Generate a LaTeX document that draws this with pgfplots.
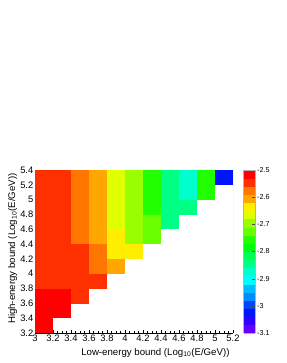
\documentclass[border=0pt]{standalone}
\usepackage{pgfplots}
\pgfplotsset{compat=1.18}
\usepackage{fontspec}
\setmainfont{Liberation Sans}
\pgfdeclareplotmark{cell}{\pgfpathrectangle{\pgfpoint{-9.15bp}{-7.56bp}}{\pgfpoint{18.3bp}{15.12bp}}\pgfusepathqfill}
\pgfplotsset{
  colormap={rootpal}{
    rgb255(0)=(99,0,255) rgb255(1)=(51,0,255) rgb255(2)=(0,20,255) rgb255(3)=(0,68,255)
    rgb255(4)=(0,139,255) rgb255(5)=(0,187,255) rgb255(6)=(0,255,252) rgb255(7)=(0,255,204)
    rgb255(8)=(0,255,133) rgb255(9)=(0,255,85) rgb255(10)=(0,255,14) rgb255(11)=(34,255,0)
    rgb255(12)=(105,255,0) rgb255(13)=(153,255,0) rgb255(14)=(224,255,0) rgb255(15)=(255,238,0)
    rgb255(16)=(255,167,0) rgb255(17)=(255,119,0) rgb255(18)=(255,48,0) rgb255(19)=(255,0,0)
    rgb255(20)=(255,0,0)
  }
}
\begin{document}
\begin{tikzpicture}
\useasboundingbox (-35bp,-30bp) rectangle (252bp,333bp);
\begin{axis}[
  at={(0,0)}, anchor=south west,
  scale only axis, width=198bp, height=163bp,
  xmin=3, xmax=5.2, ymin=3.2, ymax=5.4,
  axis x line*=bottom, axis y line*=left,
  axis line style={black, line width=0.4pt},
  axis on top,
  xtick={3,3.2,3.4,3.6,3.8,4,4.2,4.4,4.6,4.8,5,5.2},
  xticklabels={3,3.2,3.4,3.6,3.8,4,4.2,4.4,4.6,4.8,5,5.2},
  ytick={3.2,3.4,3.6,3.8,4,4.2,4.4,4.6,4.8,5,5.2,5.4},
  yticklabels={3.2,3.4,3.6,3.8,4,4.2,4.4,4.6,4.8,5,5.2,5.4},
  minor tick num=3,
  tick align=inside,
  major tick length=3.5bp, minor tick length=1.8bp,
  tick style={black, line width=0.35pt},
  /pgf/number format/assume math mode=true,
  ticklabel style={font=\fontsize{9.4}{11}\selectfont},
  xticklabel style={inner sep=1.5bp},
  yticklabel style={inner sep=1.5bp},
  xlabel={Low-energy bound (Log\textsubscript{10}(E/GeV))},
  ylabel={High-energy bound (Log\textsubscript{10}(E/GeV))},
  label style={font=\fontsize{9.7}{11}\selectfont},
  xlabel style={at={(axis description cs:1,0)}, anchor=east, yshift=-20bp},
  ylabel style={at={(axis description cs:-0.1126,1)}, anchor=east},
  colormap name=rootpal,
  colormap access=piecewise constant,
  point meta min=-3.1, point meta max=-2.5,
  colorbar right,
  colorbar style={
    at={(parent axis.north east)}, anchor=north west, xshift=2bp,
    width=11.7bp,
    ytick={-3.1,-3,-2.9,-2.8,-2.7,-2.6,-2.5},
    yticklabels={-3.1,-3,-2.9,-2.8,-2.7,-2.6,-2.5},
    ytick pos=right, tick align=inside,
    major tick length=3bp,
    minor tick num=0,
    yticklabel style={font=\fontsize{7.2}{8}\selectfont, xshift=-1.5bp},
    axis line style={gray!60},
    tick style={black!70},
  },
]
\addplot[scatter, only marks, mark=cell, point meta=explicit,
  scatter/use mapped color={draw=none, fill=mapped color}]
  table[meta=z] {
x y z
3.1 3.3 -2.515
3.1 3.5 -2.515
3.3 3.5 -2.515
3.1 3.7 -2.515
3.3 3.7 -2.515
3.5 3.7 -2.545
3.1 3.9 -2.545
3.3 3.9 -2.545
3.5 3.9 -2.545
3.7 3.9 -2.545
3.1 4.1 -2.545
3.3 4.1 -2.545
3.5 4.1 -2.545
3.7 4.1 -2.575
3.9 4.1 -2.605
3.1 4.3 -2.545
3.3 4.3 -2.545
3.5 4.3 -2.545
3.7 4.3 -2.575
3.9 4.3 -2.635
4.1 4.3 -2.635
3.1 4.5 -2.545
3.3 4.5 -2.545
3.5 4.5 -2.575
3.7 4.5 -2.605
3.9 4.5 -2.635
4.1 4.5 -2.695
4.3 4.5 -2.725
3.1 4.7 -2.545
3.3 4.7 -2.545
3.5 4.7 -2.575
3.7 4.7 -2.605
3.9 4.7 -2.665
4.1 4.7 -2.695
4.3 4.7 -2.725
4.5 4.7 -2.845
3.1 4.9 -2.545
3.3 4.9 -2.545
3.5 4.9 -2.575
3.7 4.9 -2.605
3.9 4.9 -2.665
4.1 4.9 -2.695
4.3 4.9 -2.755
4.5 4.9 -2.845
4.7 4.9 -2.845
3.1 5.1 -2.545
3.3 5.1 -2.545
3.5 5.1 -2.575
3.7 5.1 -2.605
3.9 5.1 -2.665
4.1 5.1 -2.695
4.3 5.1 -2.755
4.5 5.1 -2.845
4.7 5.1 -2.875
4.9 5.1 -2.755
3.1 5.3 -2.545
3.3 5.3 -2.545
3.5 5.3 -2.575
3.7 5.3 -2.605
3.9 5.3 -2.665
4.1 5.3 -2.695
4.3 5.3 -2.755
4.5 5.3 -2.845
4.7 5.3 -2.875
4.9 5.3 -2.755
5.1 5.3 -3.025
};
\draw[gray!50, line width=0.4pt] (rel axis cs:0,1) -- (rel axis cs:1,1) -- (rel axis cs:1,0);
\end{axis}
\end{tikzpicture}
\end{document}
